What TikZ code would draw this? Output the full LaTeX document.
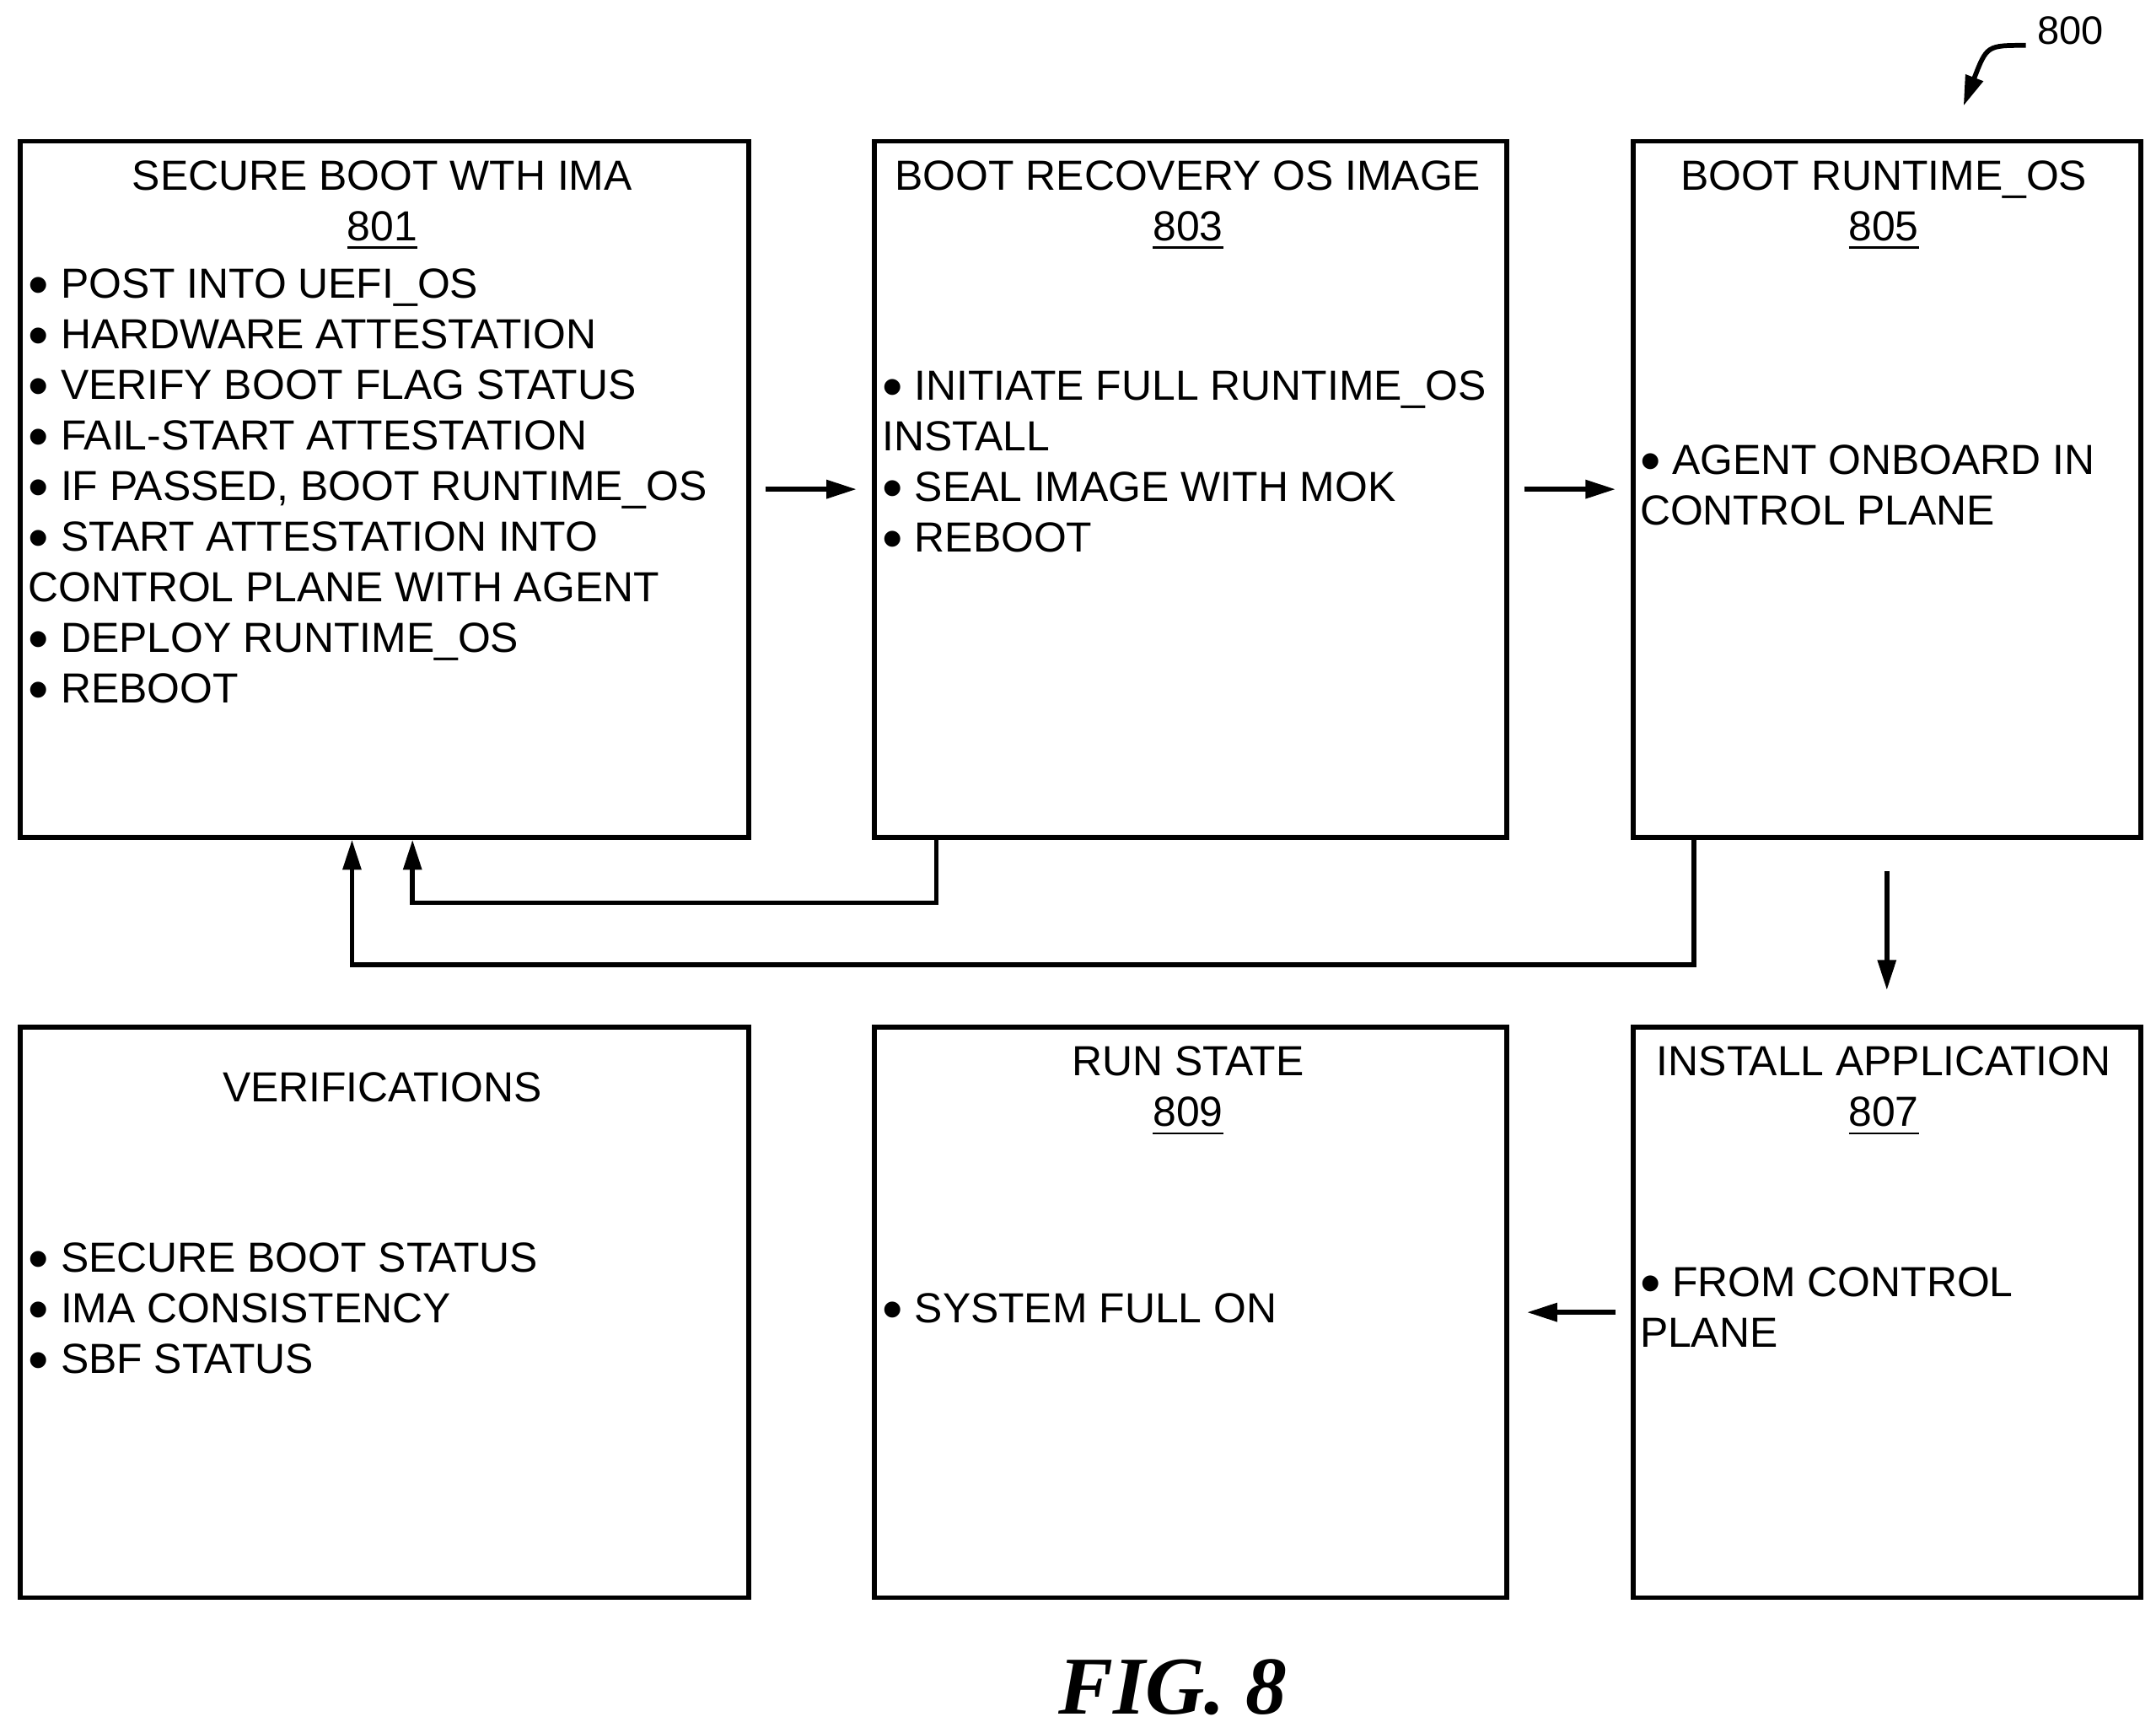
\documentclass[tikz,border=0pt]{standalone}
\usepackage{fontspec}
\usepackage{graphicx}
\setmainfont{Liberation Sans}
\newfontfamily\figfont{Liberation Serif}
\usetikzlibrary{arrows.meta}
\newcommand{\bul}{\raisebox{-0.16em}[0pt][0pt]{\scalebox{1.4}{\textbullet}}\ }
\tikzset{
  blk/.style={draw, line width=1pt, inner sep=0, anchor=north west},
  ttl/.style={inner sep=0, anchor=north, align=center, font=\fontsize{8.7}{10.45}\selectfont},
  txt/.style={inner sep=0, anchor=north west, align=left, font=\fontsize{8.7}{10.45}\selectfont},
  arr/.style={line width=1pt, -{Triangle[length=2.2mm,width=1.3mm]}}
}
\begin{document}
\begin{tikzpicture}[x=0.1mm, y=-0.1mm]
\useasboundingbox (0,0) rectangle (1568,1260);
%%%%% Boxes %%%%%
\node[blk, minimum width=53mm, minimum height=50.6mm] (b801) at (13,101) {};
\node[blk, minimum width=46mm, minimum height=50.6mm] (b803) at (634,101) {};
\node[blk, minimum width=36.9mm, minimum height=50.6mm] (b805) at (1186,101) {};
\node[blk, minimum width=53mm, minimum height=41.5mm] (bver) at (13,745) {};
\node[blk, minimum width=46mm, minimum height=41.5mm] (b809) at (634,745) {};
\node[blk, minimum width=36.9mm, minimum height=41.5mm] (b807) at (1186,745) {};
%%%%% Titles %%%%%
\node[ttl] (t801) at (278,116) {SECURE BOOT WTH IMA\\\underline{801}};
\node[ttl] (t803) at (864,116) {BOOT RECOVERY OS IMAGE\\\underline{803}};
\node[ttl] (t805) at (1370,116) {BOOT RUNTIME\_OS\\\underline{805}};
\node[ttl] (tver) at (278,779) {VERIFICATIONS};
\node[ttl] (t809) at (864,760) {RUN STATE\\\underline{809}};
\node[ttl] (t807) at (1370,760) {INSTALL APPLICATION\\\underline{807}};
%%%%% Texts %%%%%
\node[txt] (l801) at (20,195) {\bul POST INTO UEFI\_OS\\\bul HARDWARE ATTESTATION\\\bul VERIFY BOOT FLAG STATUS\\\bul FAIL-START ATTESTATION\\\bul IF PASSED, BOOT RUNTIME\_OS\\\bul START ATTESTATION INTO\\CONTROL PLANE WITH AGENT\\\bul DEPLOY RUNTIME\_OS\\\bul REBOOT};
\node[txt] (l803) at (641,269) {\bul INITIATE FULL RUNTIME\_OS\\INSTALL\\\bul SEAL IMAGE WITH MOK\\\bul REBOOT};
\node[txt] (l805) at (1192,323) {\bul AGENT ONBOARD IN\\CONTROL PLANE};
\node[txt] (lver) at (20,903) {\bul SECURE BOOT STATUS\\\bul IMA CONSISTENCY\\\bul SBF STATUS};
\node[txt] (l809) at (641,940) {\bul SYSTEM FULL ON};
\node[txt] (l807) at (1192,921) {\bul FROM CONTROL\\PLANE};
%%%%% Arrows %%%%%
\draw[arr] ([xshift=1mm]b801.east) -- ([xshift=-1.1mm]b803.west);
\draw[arr] ([xshift=1.1mm]b803.east) -- ([xshift=-1.1mm]b805.west);
\draw[arr] ([yshift=-2.3mm]b805.south) -- ([yshift=2.5mm]b807.north);
\draw[arr] ([xshift=-1.1mm]b807.west) -- ([xshift=1.3mm]b809.east);
\draw[arr] ([xshift=4.7mm]b803.south west) -- ++(0,46) -| ([xshift=28.7mm]b801.south west);
\draw[arr] ([xshift=4.6mm]b805.south west) -- ++(0,91) -| ([xshift=24.3mm]b801.south west);
%%%%% Labels %%%%%
\node[inner sep=0, font=\fontsize{8.2}{9}\selectfont] (n800) at (1506,22) {800};
\coordinate (c800) at (1428,77);
\draw[arr] ([xshift=-0.8mm,yshift=-1.1mm]n800.west) .. controls (1445,33) .. (c800);
\node[inner sep=0, font=\figfont\fontsize{17}{20}\selectfont\bfseries\itshape] (fig) at (853,1227) {FIG. 8};
\end{tikzpicture}
\end{document}
